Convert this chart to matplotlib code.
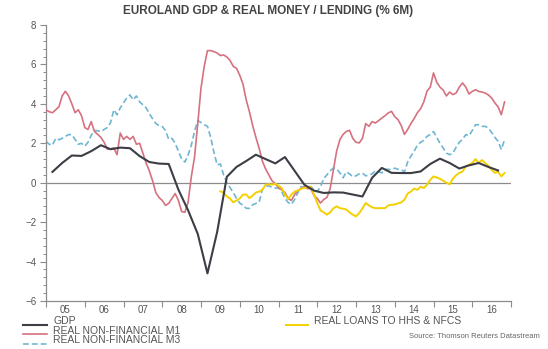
import numpy as np
import matplotlib
matplotlib.use("Agg")
import matplotlib.pyplot as plt
from matplotlib.lines import Line2D
from matplotlib.ticker import MultipleLocator, FixedLocator, NullFormatter, FixedFormatter

plt.rcParams['font.family'] = ['Liberation Sans', 'DejaVu Sans']

# colours
gdp_col = "#3c3d45"
m1_col = "#d6717f"
m3_col = "#6fb6d3"
loan_col = "#f5d000"
txt_col = "#555555"

# monthly data, Jan 2005 onwards (% 6m annualised)
m1_start = 2005.0
m1 = [3.7, 3.6, 3.55, 3.7, 3.85, 4.4, 4.64, 4.4, 4.0, 3.55, 3.7, 3.4,
      2.8, 2.7, 3.1, 2.6, 2.45, 2.3, 2.05, 1.7, 1.72, 1.76, 1.42, 2.52,
      2.2, 2.35, 2.2, 2.35, 1.95, 2.0, 1.5, 1.0, 0.6, 0.1, -0.5, -0.75,
      -0.9, -1.15, -1.05, -0.8, -0.55, -0.9, -1.46, -1.5, -1.0, 0.3, 1.3, 3.0,
      4.8, 5.9, 6.7, 6.7, 6.65, 6.58, 6.45, 6.48, 6.38, 6.2, 5.9, 5.8,
      5.45, 5.0, 4.2, 3.6, 2.9, 2.3, 1.75, 1.1, 0.7, 0.4, 0.1, -0.05,
      -0.25, -0.36, -0.5, -0.8, -0.9, -0.6, -0.4, -0.3, -0.2, -0.3, -0.3, -0.65,
      -0.8, -1.03, -0.85, -0.75, -0.3, 0.66, 1.6, 2.18, 2.45, 2.6, 2.66, 2.25,
      2.05, 2.02, 2.25, 3.0, 2.86, 3.1, 3.03, 3.15, 3.28, 3.4, 3.54, 3.62,
      3.35, 3.2, 2.9, 2.45, 2.7, 3.0, 3.25, 3.55, 3.75, 4.1, 4.65, 4.85,
      5.57, 5.1, 4.85, 4.7, 4.4, 4.6, 4.47, 4.55, 4.85, 5.06, 4.85, 4.5,
      4.63, 4.72, 4.63, 4.6, 4.55, 4.45, 4.3, 4.05, 3.85, 3.45, 4.1]

m3_start = 2005.0
m3 = [2.1, 1.95, 1.9, 2.25, 2.18, 2.25, 2.35, 2.44, 2.44, 2.2, 1.95, 2.0,
      1.85, 2.05, 2.4, 2.65, 2.63, 2.6, 2.7, 2.8, 3.05, 3.7, 3.45, 3.8,
      4.05, 4.3, 4.45, 4.2, 4.4, 4.1, 3.95, 3.8, 3.5, 3.25, 3.0, 2.9,
      2.85, 2.65, 2.2, 2.25, 2.0, 1.6, 1.2, 1.05, 1.4, 1.9, 2.6, 3.16,
      3.05, 2.94, 2.86, 2.3, 1.55, 0.9, 0.95, 0.4, 0.0, -0.25, -0.5, -0.8,
      -1.03, -1.15, -1.3, -1.3, -1.12, -1.05, -1.0, -0.35, -0.2, -0.15, -0.25, -0.27,
      -0.27, -0.45, -0.8, -1.0, -1.1, -0.85, -0.5, -0.2, -0.25, -0.25, -0.2, -0.35,
      -0.45, -0.2, 0.2, 0.4, 0.6, 0.74, 0.7, 0.5, 0.25, 0.55, 0.45, 0.3,
      0.35, 0.45, 0.49, 0.35, 0.38, 0.45, 0.6, 0.55, 0.5, 0.68, 0.68, 0.66,
      0.74, 0.68, 0.66, 0.55, 1.05, 1.35, 1.6, 1.9, 2.05, 2.15, 2.35, 2.45,
      2.6, 2.3, 2.0, 1.76, 1.5, 1.42, 1.5, 1.8, 2.05, 2.2, 2.44, 2.38,
      2.65, 2.94, 2.94, 2.86, 2.86, 2.77, 2.55, 2.3, 2.1, 1.68, 2.18]

# loans start Jul 2009
loans_start = 2009.5
loans = [-0.44, -0.5, -0.7, -0.8, -1.0, -0.9,
         -0.8, -0.6, -0.6, -0.78, -0.65, -0.5, -0.45, -0.36, -0.1, -0.08, -0.1, -0.05,
         -0.15, -0.27, -0.6, -0.83, -0.6, -0.45, -0.4, -0.3, -0.27, -0.22, -0.2, -0.6,
         -1.03, -1.4, -1.5, -1.62, -1.5, -1.3, -1.2, -1.29, -1.32, -1.36, -1.5, -1.62,
         -1.71, -1.54, -1.3, -1.03, -1.15, -1.25, -1.29, -1.29, -1.29, -1.29, -1.15, -1.12,
         -1.1, -1.05, -1.0, -0.86, -0.55, -0.45, -0.3, -0.36, -0.2, -0.27, -0.1, 0.15,
         0.32, 0.26, 0.2, 0.1, 0.0, -0.08, 0.2, 0.38, 0.5, 0.57, 0.83, 0.91,
         1.0, 1.2, 1.0, 1.15, 1.0, 0.86, 0.66, 0.5, 0.55, 0.32, 0.49]

# quarterly GDP, Q1 2005 onwards (plotted at quarter end month)
gdp_start = 2005.0 + 2 / 12
gdp = [0.55, 1.0, 1.38, 1.36, 1.6, 1.9, 1.7, 1.78, 1.75, 1.35, 1.05, 0.97,
       0.95, -0.35, -1.4, -2.6, -4.6, -2.5, 0.3, 0.8, 1.1, 1.42, 1.2, 0.98,
       1.3, 0.6, -0.1, -0.4, -0.52, -0.49, -0.5, -0.6, -0.7, 0.25, 0.75, 0.5,
       0.49, 0.49, 0.57, 0.95, 1.22, 1.0, 0.72, 0.88, 1.0, 0.8, 0.62]

year_labels = ["05", "06", "07", "08", "09", "10", "11", "12", "13", "14", "15", "16"]

def xs(start, vals, step):
    return start + np.arange(len(vals)) * step

fig = plt.figure(figsize=(5.48, 3.49), dpi=100)
ax = fig.add_axes([46 / 548, 1 - 301 / 349, 465 / 548, 276 / 349])

ax.axhline(0, color="#8c8c8c", lw=0.9, zorder=1)
ax.plot(xs(m3_start, m3, 1 / 12), m3, color=m3_col, lw=1.2, ls=(0, (3.5, 1.8)), zorder=2)
ax.plot(xs(m1_start, m1, 1 / 12), m1, color=m1_col, lw=1.2, zorder=3)
ax.plot(xs(loans_start, loans, 1 / 12), loans, color=loan_col, lw=1.4, zorder=4)
ax.plot(xs(gdp_start, gdp, 0.25), gdp, color=gdp_col, lw=1.5, zorder=5)

ax.set_xlim(2005, 2017)
ax.set_ylim(-6, 8)

for s in ["top", "right"]:
    ax.spines[s].set_visible(False)
for s in ["left", "bottom"]:
    ax.spines[s].set_color("#8c8c8c")
    ax.spines[s].set_linewidth(0.9)

ax.yaxis.set_major_locator(MultipleLocator(2))
ax.yaxis.set_minor_locator(MultipleLocator(0.4))
ax.tick_params(axis="y", which="major", length=4, width=0.8, color="#8c8c8c",
               labelsize=7, labelcolor=txt_col, pad=3)
ax.tick_params(axis="y", which="minor", length=2.5, width=0.7, color="#8c8c8c")

ax.xaxis.set_major_locator(MultipleLocator(1))
ax.xaxis.set_major_formatter(NullFormatter())
ax.xaxis.set_minor_locator(FixedLocator(np.arange(2005.5, 2017, 1)))
ax.xaxis.set_minor_formatter(FixedFormatter(year_labels))
ax.tick_params(axis="x", which="major", length=4, width=0.8, color="#8c8c8c")
ax.tick_params(axis="x", which="minor", length=0, labelsize=7, labelcolor=txt_col, pad=3)

fig.text(0.49, 1 - 11 / 349, "EUROLAND GDP & REAL MONEY / LENDING (% 6M)",
         ha="center", va="center", fontsize=8.5, fontweight="bold", color="#444444")

# legend, drawn by hand in figure pixels
def key(x0, x1, y_line, y_text, label, **kw):
    fig.add_artist(Line2D([x0 / 548, x1 / 548], [1 - y_line / 349] * 2,
                          transform=fig.transFigure, **kw))
    fig.text((x1 + 6) / 548, 1 - y_text / 349, label, ha="left", va="center",
             fontsize=7.5, color=txt_col)

key(23, 47, 325, 321.5, "GDP", color=gdp_col, lw=1.5)
key(23, 47, 334, 331, "REAL NON-FINANCIAL M1", color=m1_col, lw=1.2)
key(23, 47, 344, 340.3, "REAL NON-FINANCIAL M3", color=m3_col, lw=1.2, ls=(0, (3.5, 1.8)))
key(286, 308, 325, 321.5, "REAL LOANS TO HHS & NFCS", color=loan_col, lw=1.4)

fig.text(540 / 548, 1 - 336 / 349, "Source: Thomson Reuters Datastream",
         ha="right", va="center", fontsize=5.5, color="#666666")

fig.savefig("out.png", dpi=100)
